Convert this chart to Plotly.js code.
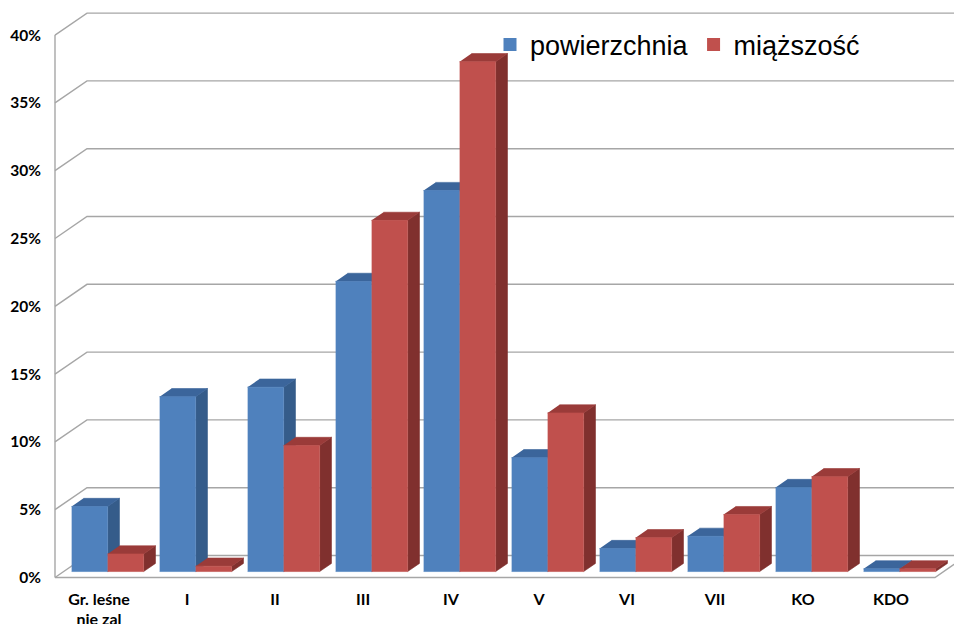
<!DOCTYPE html>
<html>
<head>
<meta charset="utf-8">
<script src="https://cdn.plot.ly/plotly-3.0.1.min.js"></script>
<style>html,body{margin:0;padding:0;background:#fff;}#chart{width:954px;height:624px;}</style>
</head>
<body>
<div id="chart"></div>
<script>
// ---- data ----
const categories = ['Gr. leśne<br>nie zal', 'I', 'II', 'III', 'IV', 'V', 'VI', 'VII', 'KO', 'KDO'];
const seriesNames = ['powierzchnia', 'miąższość'];
const powierzchnia = [4.8, 12.9, 13.6, 21.4, 28.1, 8.4, 1.7, 2.6, 6.2, 0.2];
const miazszosc = [1.3, 0.4, 9.3, 25.9, 37.6, 11.7, 2.5, 4.2, 7.0, 0.2];
const yTickVals = [0, 5, 10, 15, 20, 25, 30, 35, 40];
const yTickText = ['0%', '5%', '10%', '15%', '20%', '25%', '30%', '35%', '40%'];

// ---- pseudo-3D geometry (in axis units) ----
const DX = 32 / 88;      // depth offset along x (category units)
const DY = 22 / 13.56;   // depth offset along y (percent units)
const F1 = 0.27, F2 = 0.64; // bar front / back depth fractions
const BW = 0.409;        // bar width
const N = categories.length;
const xL = -0.5, xR = N - 0.5;

const colors = {
  blue: {front: '#4F81BD', top: '#3B659B', side: '#355C8A'},
  red:  {front: '#C0504D', top: '#9A3B39', side: '#80302E'}
};

const traces = [];

// gridlines (left wall + back wall)
const gx = [], gy = [];
yTickVals.forEach(v => {
  gx.push(xL, xL + DX, xR + DX + 0.5, null);
  gy.push(v, v + DY, v + DY, null);
});
// left front vertical edge
gx.push(xL, xL, null); gy.push(0, 40, null);
// floor front edge and right diagonal
gx.push(xL, xR, xR + DX, null); gy.push(0, 0, DY, null);
traces.push({x: gx, y: gy, mode: 'lines', line: {color: '#A6A6A6', width: 1.4},
  hoverinfo: 'skip', showlegend: false, type: 'scatter'});

function faces(vals, s) {
  const fx = [], fy = [], tx = [], ty = [], sx = [], sy = [];
  vals.forEach((v, i) => {
    const xl = i - BW + s * BW, xr = xl + BW;
    const a = F1, b = F2;
    fx.push(xl + a*DX, xr + a*DX, xr + a*DX, xl + a*DX, null);
    fy.push(a*DY, a*DY, v + a*DY, v + a*DY, null);
    tx.push(xl + a*DX, xr + a*DX, xr + b*DX, xl + b*DX, null);
    ty.push(v + a*DY, v + a*DY, v + b*DY, v + b*DY, null);
    sx.push(xr + a*DX, xr + b*DX, xr + b*DX, xr + a*DX, null);
    sy.push(a*DY, b*DY, v + b*DY, v + a*DY, null);
  });
  return {fx, fy, tx, ty, sx, sy};
}

function poly(x, y, c) {
  return {x, y, type: 'scatter', mode: 'lines', fill: 'toself', fillcolor: c,
    line: {color: c, width: 0.6}, hoverinfo: 'skip', showlegend: false};
}

[[powierzchnia, colors.blue], [miazszosc, colors.red]].forEach(([vals, c], s) => {
  const f = faces(vals, s);
  traces.push(poly(f.sx, f.sy, c.side));
  traces.push(poly(f.tx, f.ty, c.top));
  traces.push(poly(f.fx, f.fy, c.front));
});

// legend entries
traces.push({x: [null], y: [null], type: 'scatter', mode: 'markers', name: seriesNames[0],
  marker: {symbol: 'square', size: 13, color: colors.blue.front}});
traces.push({x: [null], y: [null], type: 'scatter', mode: 'markers', name: seriesNames[1],
  marker: {symbol: 'square', size: 13, color: colors.red.front}});

const layout = {
  width: 954, height: 624,
  margin: {l: 0, r: 0, t: 0, b: 0},
  paper_bgcolor: '#ffffff', plot_bgcolor: '#ffffff',
  showlegend: true,
  legend: {orientation: 'h', x: 490/954, xanchor: 'left', y: 1 - 45/624, yanchor: 'middle',
    font: {family: 'Liberation Sans, Arial, sans-serif', size: 27, color: '#000'},
    bgcolor: 'rgba(0,0,0,0)', itemclick: false, itemdoubleclick: false, tracegroupgap: 0},
  xaxis: {domain: [0, 1], range: [-1.125, 9.716], anchor: 'free', position: (624 - 577.5) / 624,
    tickmode: 'array', tickvals: categories.map((c, i) => i), ticktext: categories,
    showgrid: false, zeroline: false, showline: false, ticks: '', ticklabelstandoff: 10,
    tickfont: {family: 'Lato, Liberation Sans, sans-serif', size: 16, color: '#000', weight: 'bold'},
    fixedrange: true},
  yaxis: {domain: [0, 1], range: [-46.5/13.56, 577.5/13.56], anchor: 'free', position: 55/954,
    tickmode: 'array', tickvals: yTickVals, ticktext: yTickText,
    showgrid: false, zeroline: false, showline: false, ticks: '', ticklabelstandoff: 14,
    tickfont: {family: 'Lato, Liberation Sans, sans-serif', size: 15.5, color: '#000', weight: 'bold'},
    fixedrange: true},
  hovermode: false
};

Plotly.newPlot('chart', traces, layout, {displayModeBar: false, staticPlot: true});
</script>
</body>
</html>
